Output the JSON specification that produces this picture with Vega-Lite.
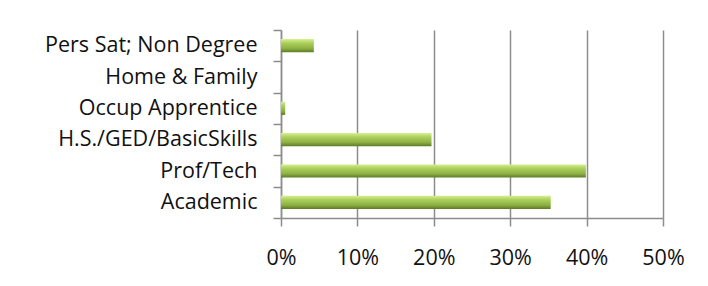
{
  "$schema": "https://vega.github.io/schema/vega-lite/v6.json",
  "autosize": "none",
  "width": 382,
  "height": 188,
  "padding": {"left": 281, "top": 30, "right": 45, "bottom": 68},
  "background": "white",
  "config": {"view": {"stroke": null}},
  "data": {"values": [
    {"category": "Pers Sat; Non Degree", "share": 0.043},
    {"category": "Home & Family", "share": 0.0},
    {"category": "Occup Apprentice", "share": 0.0055},
    {"category": "H.S./GED/BasicSkills", "share": 0.197},
    {"category": "Prof/Tech", "share": 0.399},
    {"category": "Academic", "share": 0.353}
  ]},
  "mark": {
    "type": "bar",
    "height": {"band": 0.42},
    "color": {"gradient": "linear", "x1": 0, "y1": 0, "x2": 0, "y2": 1,
      "stops": [
        {"offset": 0, "color": "#d6f08e"},
        {"offset": 0.3, "color": "#acd05c"},
        {"offset": 0.7, "color": "#8eb143"},
        {"offset": 1, "color": "#5d7a27"}
      ]}
  },
  "encoding": {
    "y": {
      "field": "category", "type": "nominal", "sort": null, "title": null,
      "scale": {"paddingInner": 0, "paddingOuter": 0},
      "axis": {
        "tickBand": "extent", "tickSize": 8, "tickColor": "#8c8c8c", "tickWidth": 1.5,
        "domainColor": "#8c8c8c", "domainWidth": 1.5,
        "labelFont": "Open Sans", "labelFontSize": 21.5, "labelColor": "#111111",
        "labelPadding": 16, "labelLimit": 300
      }
    },
    "x": {
      "field": "share", "type": "quantitative", "title": null,
      "scale": {"domain": [0, 0.5], "nice": false},
      "axis": {
        "format": ".0%", "values": [0, 0.1, 0.2, 0.3, 0.4, 0.5],
        "grid": true, "gridColor": "#8c8c8c", "gridWidth": 1.5,
        "tickSize": 8, "tickColor": "#8c8c8c", "tickWidth": 1.5,
        "domainColor": "#8c8c8c", "domainWidth": 1.5,
        "labelFlush": false, "labelBound": false,
        "labelFont": "Open Sans", "labelFontSize": 21.5, "labelColor": "#111111",
        "labelPadding": 21
      }
    }
  }
}
